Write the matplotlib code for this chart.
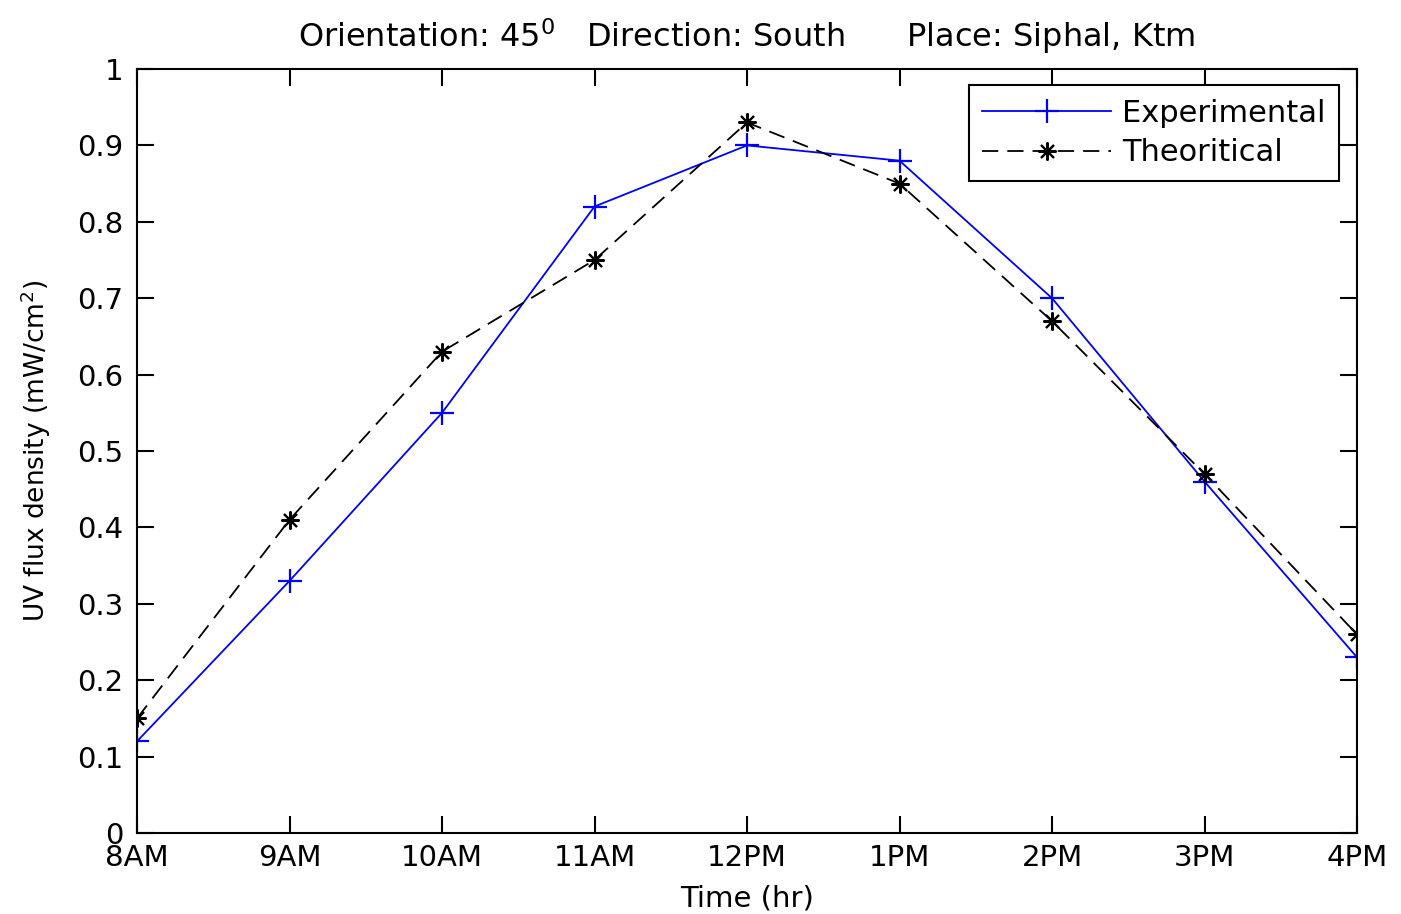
"""UV flux density over the day: experimental vs theoretical (45 deg, south)."""
import matplotlib
matplotlib.use('Agg')
import matplotlib.pyplot as plt

TIMES = ['8AM', '9AM', '10AM', '11AM', '12PM', '1PM', '2PM', '3PM', '4PM']
EXPERIMENTAL = [0.12, 0.33, 0.55, 0.82, 0.90, 0.88, 0.70, 0.46, 0.23]
THEORETICAL = [0.15, 0.41, 0.63, 0.75, 0.93, 0.85, 0.67, 0.47, 0.26]
Y_TICKS = [0, 0.1, 0.2, 0.3, 0.4, 0.5, 0.6, 0.7, 0.8, 0.9, 1]

plt.rcParams['font.family'] = ['DejaVu Sans']
plt.rcParams['font.size'] = 21

fig = plt.figure(figsize=(14.01, 9.14), dpi=100)
ax = fig.add_axes([0.0978, 0.0886, 0.8708, 0.8359])

x = list(range(len(TIMES)))
ax.plot(x, EXPERIMENTAL, color='#0000ff', linewidth=1.3, marker='+',
        markersize=17, markeredgewidth=1.6, label='Experimental')
ax.plot(x, THEORETICAL, color='black', linewidth=1.3, linestyle=(0, (9, 5)),
        marker=(8, 2, 0), markersize=13, markeredgewidth=1.5, label='Theoritical')

ax.set_xlim(0, len(TIMES) - 1)
ax.set_ylim(0, 1)
ax.set_xticks(x)
ax.set_xticklabels(TIMES)
ax.set_yticks(Y_TICKS)
ax.set_yticklabels(['0' if v == 0 else ('1' if v == 1 else f'{v:.1f}') for v in Y_TICKS])
ax.tick_params(direction='in', length=12, width=1.5, top=True, right=True,
               labelsize=21)
ax.tick_params(axis='x', pad=8)
ax.tick_params(axis='y', pad=10)
for spine in ax.spines.values():
    spine.set_linewidth(1.5)

ax.set_xlabel('Time (hr)', fontsize=21, labelpad=9)
ax.set_ylabel('UV flux density (mW/cm$^2$)', fontsize=19, labelpad=17)
ax.set_title('Orientation: 45$^0$   Direction: South      Place: Siphal, Ktm',
             fontsize=23, pad=16)

leg = ax.legend(loc='upper right', bbox_to_anchor=(0.9852, 0.979), borderaxespad=0,
                fancybox=False, edgecolor='black', framealpha=1, handlelength=4.2,
                borderpad=0.45, labelspacing=0.35, handletextpad=0.36, fontsize=22)
leg.get_frame().set_linewidth(1.5)

fig.savefig('out.png', dpi=100)
